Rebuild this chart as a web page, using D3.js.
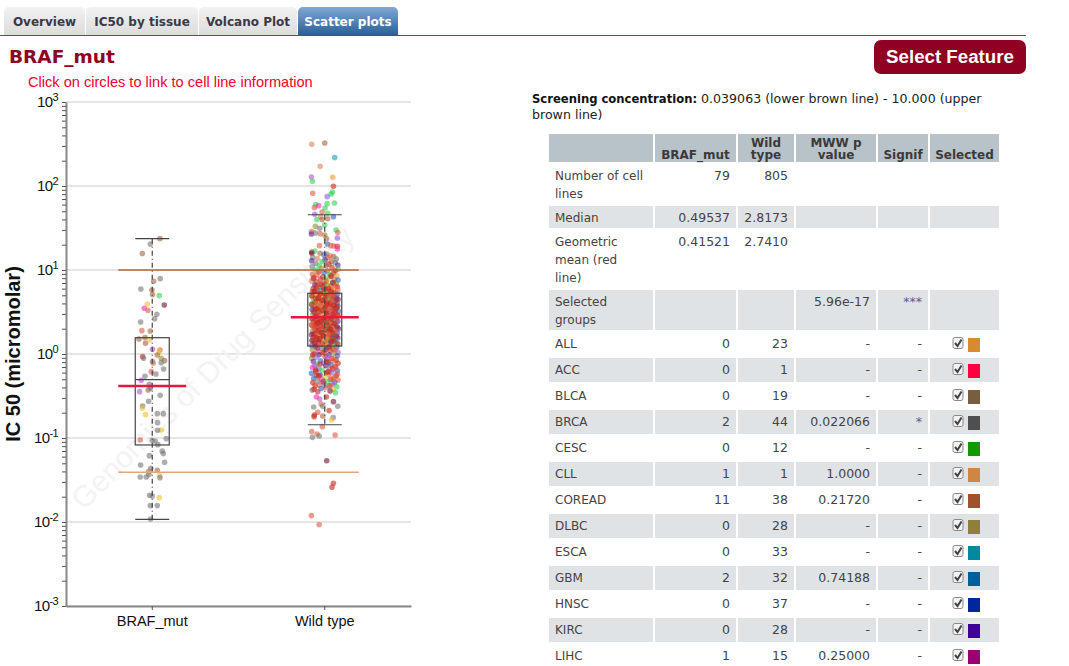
<!DOCTYPE html>
<html>
<head>
<meta charset="utf-8">
<script src="https://cdn.jsdelivr.net/npm/d3@7"></script>
<style>
  body { margin: 0; background: #fff; }
  svg { display: block; }
  text { font-family: "DejaVu Sans", sans-serif; }
  .plot text { font-family: "Liberation Sans", Arial, sans-serif; }
</style>
</head>
<body>
<div id="sketchpad"></div>
<script>
let tabLabels = ["Overview", "IC50 by tissue", "Volcano Plot", "Scatter plots"]
let groups = ["BRAF_mut", "Wild type"]

// box stats, log10 IC50
let boxQ1 = [-1.083, 0.095]
let boxMedian = [-0.305, 0.45]
let boxQ3 = [0.194, 0.723]
let whiskerLow = [-1.968, -0.842]
let whiskerHigh = [1.373, 1.658]
let geoMean = [0.41521, 2.7410]
let screening = [0.039063, 10]

let dotPalette = ["#777777", "#a5613a", "#dd5a40", "#c4281c", "#30d050", "#eebf30", "#b055c8", "#8f5cf0",
  "#2f5fc0", "#1c9cc0", "#ff2cb0", "#701030", "#ff9428", "#8f8f2c", "#5a1ca0", "#d5865a"]

// BRAF_mut dots: log10 IC50, jitter (-1..1), colour
let mutLog = [
  1.373, 1.31, 1.195, 0.897, 0.865, 0.774, 0.762, 0.707, 0.695, 0.595,
  0.584, 0.544, 0.52, 0.473, 0.421, 0.381, 0.278, 0.274, 0.179, 0.195,
  0.171, 0.127, 0.056, 0.048, 0.028, -0.031, -0.051, -0.012, -0.051, -0.079,
  -0.091, -0.111, -0.103, -0.178, -0.21, -0.238, -0.266, -0.313, -0.361, -0.404,
  -0.428, -0.448, -0.492, -0.563, -0.619, -0.647, -0.71, -0.71, -0.722, -0.817,
  -0.905, -0.909, -1.008, -1.024, -1.028, -1.035, -1.079, -1.154, -1.186, -1.21,
  -1.289, -1.321, -1.361, -1.385, -1.4, -1.444, -1.472, -1.464, -1.464, -1.436,
  -1.682, -1.69, -1.71, -1.805, -1.805, -1.964]
let mutJitter = [
  0.55, -0.14, -0.71, 0.57, 0.1, -0.81, -0.02, 0.02, 0.5, -0.36,
  0.86, -0.57, -0.31, 0.33, 0.17, -0.83, -0.74, -0.14, -0.95, -0.52,
  -0.19, -0.48, 0.02, 0.55, 0.5, -0.69, -0.62, 0.36, 0.64, 0.88,
  0.02, 0.07, 0.64, 0.81, -0.07, 0.26, -0.52, -0.79, -0.21, -0.14,
  -0.29, -0.9, 0.57, -0.26, -0.69, -0.71, 0.36, 0.79, -0.48, 0.38,
  0.64, 0.38, 1, -0.86, 0, 0.21, 0.4, 0.71, 0.79, -0.21,
  0.88, -0.83, -0.1, 0.36, -0.26, 0.52, 0.55, -0.86, -0.43, -0.24,
  -0.19, 0, 0.5, -0.14, 0.36, -0.12]
let mutColor = [
  1, 0, 1, 0, 1, 0, 1, 1, 4, 5,
  11, 10, 2, 0, 0, 0, 2, 1, 1, 1,
  5, 1, 6, 2, 5, 3, 0, 1, 13, 1,
  0, 15, 0, 0, 2, 0, 0, 6, 0, 8,
  1, 6, 0, 0, 0, 5, 0, 0, 5, 0,
  5, 0, 0, 2, 0, 0, 0, 0, 0, 0,
  0, 0, 0, 1, 2, 5, 0, 0, 0, 0,
  0, 0, 5, 0, 0, 0]

// Wild type dots: outliers read one by one, the dense middle estimated
let wildLog = [
  2.496, 2.512, 2.338, 2.234, 2.107, 2.103, 2.056, 1.996, 1.913, 1.929,
  1.905, 1.873, 1.798, 1.79, 1.778, 1.766, 1.742, 1.738, 1.691, 1.675,
  1.663, 1.635, 1.635, 1.611, 1.6, 1.6, 1.536, 1.52, 1.496, 1.476,
  1.445, 1.457, 1.429, 1.441, 1.433, 1.417, 1.373, 1.381, 1.29, 1.31,
  1.29, 1.286, 1.282, 1.25, 1.215, 1.227, 1.199,
  1.20, 1.19, 1.18, 1.17, 1.16, 1.15, 1.15, 1.14, 1.13, 1.12,
  1.11, 1.10, 1.10, 1.09, 1.08, 1.07, 1.06, 1.05, 1.05, 1.04,
  1.03, 1.02, 1.01, 1.00, 0.99, 0.99, 0.98, 0.97, 0.96, 0.95,
  0.95, 0.94, 0.93, 0.92, 0.92, 0.91, 0.90, 0.89, 0.89, 0.88,
  0.87, 0.86, 0.86, 0.85, 0.84, 0.84, 0.83, 0.82, 0.82, 0.81,
  0.80, 0.80, 0.79, 0.79, 0.78, 0.77, 0.77, 0.76, 0.76, 0.75,
  0.74, 0.74, 0.73, 0.73, 0.72, 0.72, 0.71, 0.71, 0.70, 0.70,
  0.69, 0.69, 0.68, 0.68, 0.67, 0.67, 0.66, 0.66, 0.65, 0.65,
  0.64, 0.64, 0.63, 0.63, 0.62, 0.62, 0.61, 0.61, 0.60, 0.60,
  0.59, 0.59, 0.58, 0.58, 0.57, 0.57, 0.56, 0.56, 0.55, 0.55,
  0.54, 0.54, 0.53, 0.53, 0.52, 0.52, 0.51, 0.51, 0.50, 0.50,
  0.49, 0.49, 0.48, 0.48, 0.47, 0.47, 0.46, 0.46, 0.45, 0.45,
  0.44, 0.44, 0.43, 0.43, 0.42, 0.42, 0.41, 0.41, 0.40, 0.40,
  0.39, 0.39, 0.38, 0.38, 0.37, 0.37, 0.36, 0.36, 0.35, 0.35,
  0.34, 0.34, 0.33, 0.33, 0.32, 0.32, 0.31, 0.31, 0.30, 0.30,
  0.29, 0.29, 0.28, 0.28, 0.27, 0.27, 0.26, 0.26, 0.25, 0.25,
  0.24, 0.24, 0.23, 0.23, 0.22, 0.22, 0.21, 0.21, 0.20, 0.20,
  0.19, 0.19, 0.18, 0.18, 0.17, 0.17, 0.16, 0.16, 0.15, 0.15,
  0.14, 0.14, 0.13, 0.13, 0.12, 0.12, 0.11, 0.11, 0.10, 0.10,
  0.09, 0.08, 0.08, 0.07, 0.06, 0.05, 0.05, 0.04, 0.03, 0.02,
  0.02, 0.01, 0.00, -0.01, -0.01, -0.02, -0.03, -0.04, -0.05, -0.05,
  -0.06, -0.07, -0.08, -0.08, -0.09, -0.10, -0.11, -0.11, -0.12, -0.13,
  -0.14, -0.14, -0.15, -0.16, -0.17, -0.18, -0.18, -0.19, -0.20, -0.21,
  -0.22, -0.22, -0.23, -0.24, -0.25, -0.26, -0.26, -0.27, -0.28, -0.29,
  -0.30, -0.30, -0.31, -0.32, -0.33, -0.34, -0.34, -0.35, -0.36, -0.37,
  -0.38, -0.38, -0.39, -0.40, -0.41, -0.42, -0.43, -0.44, -0.45, -0.46,
  -0.512, -0.512, -0.535, -0.567, -0.595, -0.623, -0.623, -0.631, -0.674, -0.694,
  -0.726, -0.738, -0.746, -0.758, -0.785, -0.865, -0.924, -0.952, -0.964, -0.976,
  -0.992, -1.27, -1.539, -1.587, -1.924, -2.032]
let wildJitter = [
  -0.93, 0, 0.71, -0.33, -0.95, 0.57, -0.88, 0.62, -0.86, 0.55,
  0.45, 0.17, 0.69, 0.17, -0.64, -0.43, -0.74, 0.02, -0.19, 0.21,
  -0.71, -0.29, 0.62, 0.21, -0.19, -0.57, 0, -0.67, -0.36, 0.81,
  0.93, -0.95, -0.95, -0.67, -0.33, 0, 0.12, 0.9, -0.38, 0.19,
  0.43, 0.64, 0.9, 0.9, -0.93, -0.71, -0.93,
  -0.33, 0.14, -0.05, 0.38, 0.62, -0.86, 0.24, -0.52, 0.83, 0.02,
  -0.93, 0.48, -0.19, 0.74, -0.64, 0.29, 0.93, -0.4, 0.1, -0.9,
  0.52, -0.24, 0.95, -0.67, 0.19, 0.76, -0.45, -0.05, 0.62, -0.88,
  0.33, -0.55, 0.86, -0.14, 0.43, -0.76, 0.05, 0.69, -0.31, 0.95,
  -0.93, 0.24, -0.6, 0.57, -0.02, 0.81, -0.38, 0.14, -0.71, 0.45,
  -0.12, 0.9, -0.5, 0.31, -0.83, 0.64, 0.07, -0.29, 0.48, -0.69,
  -0.88, 0.35, -0.2, 0.71, 0.05, -0.55, 0.9, -0.33, 0.48, -0.72,
  0.18, -0.93, 0.62, -0.1, 0.84, -0.45, 0.27, -0.66, 0.95, 0.02,
  -0.26, 0.52, -0.81, 0.76, -0.4, 0.12, 0.38, -0.6, 0.88, -0.05,
  -0.95, 0.31, -0.17, 0.67, -0.5, 0.93, 0.07, -0.76, 0.45, -0.29,
  0.81, -0.62, 0.21, -0.9, 0.57, -0.1, -0.43, 0.98, 0.33, -0.74,
  0.02, 0.71, -0.33, 0.48, -0.86, 0.14, -0.55, 0.9, -0.19, 0.62,
  -0.71, 0.26, 0.83, -0.05, -0.95, 0.43, -0.38, 0.67, 0.1, -0.57,
  0.93, -0.24, 0.52, -0.81, 0.19, -0.48, 0.76, -0.12, 0.36, -0.67,
  -0.9, 0.05, 0.6, -0.31, 0.86, -0.52, 0.24, -0.76, 0.98, -0.14,
  0.4, -0.62, 0.72, -0.02, -0.88, 0.29, 0.55, -0.4, 0.9, -0.21,
  0.12, -0.71, 0.64, -0.95, 0.33, -0.5, 0.81, -0.07, 0.48, -0.83,
  -0.29, 0.93, 0.17, -0.6, 0.69, -0.36, 0.02, -0.9, 0.57, 0.26,
  -0.45, 0.76, -0.74, 0.38, -0.14, 0.88, -0.55, 0.1, -0.93, 0.5,
  -0.67, 0.21, 0.86, -0.26, 0.6, -0.88, 0.07, 0.4, -0.5, 0.95,
  -0.17, 0.71, -0.76, 0.31, -0.4, 0.9, 0.02, -0.62, 0.52, -0.93,
  0.17, 0.81, -0.31, 0.62, -0.81, 0.26, -0.1, 0.95, -0.55, 0.43,
  -0.71, 0.07, 0.74, -0.88, 0.36, -0.43, 0.57, -0.19, 0.9, -0.64,
  0.12, 0.5, -0.95, 0.29, -0.33, 0.83, -0.6, 0.02, 0.67, -0.79,
  0.4, -0.24, 0.95, -0.5, 0.19, 0.71, -0.86, -0.07, 0.55, -0.4,
  0.31, -0.69, 0.86, 0.05, -0.26, 0.6, -0.9, 0.38, -0.5, 0.76,
  0.12, -0.6, -0.36, 0.62, -0.26, -0.14, 0.93, -0.79, 0.31, -0.5,
  -0.74, -0.14, -0.76, 0.6, 0.48, -0.17, -0.93, -0.55, 0.74, -0.4,
  -0.88, 0.14, 0.62, 0.52, -0.95, -0.4]
let wildColor = [
  15, 1, 9, 15, 6, 12, 4, 3, 2, 4,
  4, 7, 4, 4, 4, 10, 2, 4, 2, 4,
  7, 15, 8, 1, 1, 4, 4, 13, 0, 4,
  2, 2, 14, 0, 2, 13, 1, 7, 2, 8,
  2, 2, 3, 10, 3, 4, 11,
  1, 0, 8, 15, 1, 0, 2, 15, 0, 14,
  14, 1, 4, 0, 0, 3, 14, 4, 1, 0,
  3, 13, 4, 4, 2, 3, 2, 8, 3, 2,
  4, 2, 12, 3, 1, 2, 4, 13, 3, 8,
  15, 5, 3, 8, 3, 13, 2, 4, 14, 3,
  3, 3, 2, 12, 3, 5, 3, 8, 2, 3,
  3, 2, 12, 3, 4, 3, 8, 2, 3, 5,
  3, 13, 3, 2, 8, 3, 4, 3, 14, 3,
  2, 3, 4, 8, 3, 2, 3, 5, 3, 3,
  4, 3, 2, 3, 13, 8, 3, 2, 3, 12,
  3, 3, 2, 14, 3, 4, 3, 8, 2, 3,
  3, 2, 3, 10, 4, 3, 3, 2, 5, 3,
  8, 3, 2, 3, 13, 3, 2, 4, 3, 3,
  14, 3, 2, 3, 4, 3, 8, 3, 2, 3,
  3, 5, 3, 2, 8, 3, 4, 3, 14, 2,
  3, 3, 2, 4, 13, 3, 3, 2, 8, 3,
  2, 3, 4, 14, 3, 2, 8, 3, 11, 3,
  3, 14, 5, 3, 4, 2, 12, 8, 3, 4,
  11, 8, 3, 14, 3, 4, 2, 5, 8, 13,
  14, 3, 8, 0, 2, 13, 14, 3, 7, 6,
  2, 13, 3, 14, 11, 8, 3, 7, 2, 13,
  7, 3, 8, 2, 14, 3, 7, 3, 4, 8,
  6, 14, 3, 10, 2, 7, 3, 4, 8, 3,
  3, 7, 8, 2, 14, 3, 3, 5, 2, 8,
  3, 10, 2, 0, 4, 8, 3, 7, 6, 2,
  0, 3, 4, 2, 8, 5, 0, 11, 3, 4,
  3, 10, 6, 11, 2, 0, 0, 0, 3, 2,
  3, 1, 3, 0, 5, 2, 2, 2, 2, 0,
  0, 11, 3, 3, 2, 2]

// the red lines that pile up over the box, drawn on top of the others
let wildRedLog = [
  0.98, 0.93, 0.90, 0.87, 0.85, 0.83, 0.81, 0.80, 0.78, 0.77,
  0.76, 0.75, 0.74, 0.72, 0.71, 0.70, 0.69, 0.68, 0.66, 0.65,
  0.64, 0.63, 0.62, 0.60, 0.59, 0.58, 0.57, 0.56, 0.55, 0.54,
  0.53, 0.52, 0.51, 0.50, 0.49, 0.48, 0.47, 0.46, 0.45, 0.44,
  0.43, 0.42, 0.41, 0.40, 0.39, 0.38, 0.37, 0.36, 0.35, 0.34,
  0.33, 0.32, 0.31, 0.30, 0.29, 0.28, 0.27, 0.26, 0.25, 0.24,
  0.23, 0.22, 0.21, 0.20, 0.19, 0.18, 0.17, 0.16, 0.15, 0.14,
  0.13, 0.12, 0.11, 0.09, 0.07, 0.05, 0.02, -0.01, -0.05, -0.09,
  -0.12, -0.16, -0.19, -0.21, -0.24, -0.26, -0.3, -0.33, -0.38, -0.42]
let wildRedJitter = [
  -0.4, 0.45, -0.81, 0.1, 0.6, -0.26, 0.79, -0.6, 0.26, -0.05,
  0.93, -0.74, 0.43, -0.31, 0.69, 0.07, -0.9, 0.33, -0.48, 0.84,
  -0.14, 0.52, -0.69, 0.19, -0.93, 0.62, -0.36, 0.88, 0.02, -0.55,
  0.38, -0.21, 0.74, -0.79, 0.14, -0.43, 0.57, 0.95, -0.62, 0.29,
  -0.07, -0.86, 0.48, 0.81, -0.33, 0.12, -0.52, 0.67, -0.95, 0.24,
  -0.17, 0.9, -0.71, 0.4, 0.05, -0.45, 0.76, -0.26, 0.55, -0.83,
  0.31, -0.1, 0.86, -0.6, 0.17, -0.38, 0.64, -0.9, 0.45, 0.0,
  -0.71, 0.93, -0.19, 0.33, -0.52, 0.71, -0.05, -0.86, 0.5, 0.14,
  -0.33, 0.79, -0.64, 0.24, 0.9, -0.43, 0.57, -0.12, 0.38, -0.76]
let wildRedColor = [
  2, 3, 3, 2, 3, 3, 2, 3, 3, 3,
  2, 3, 3, 3, 2, 3, 3, 2, 3, 3,
  3, 2, 3, 3, 3, 3, 2, 3, 3, 3,
  2, 3, 3, 3, 3, 2, 3, 3, 3, 2,
  3, 3, 3, 2, 3, 3, 3, 3, 2, 3,
  3, 3, 2, 3, 3, 3, 2, 3, 3, 3,
  2, 3, 3, 3, 2, 3, 3, 3, 3, 2,
  3, 3, 2, 3, 3, 2, 3, 3, 2, 3,
  3, 2, 3, 3, 2, 3, 2, 3, 2, 3]

let rowLabels = [["Number of cell", "lines"], ["Median"], ["Geometric", "mean (red", "line)"], ["Selected", "groups"]]
let rowMut = ["79", "0.49537", "0.41521", ""]
let rowWild = ["805", "2.8173", "2.7410", ""]
let rowP = ["", "", "", "5.96e-17"]
let rowSignif = ["", "", "", "***"]

let tissues = ["ALL", "ACC", "BLCA", "BRCA", "CESC", "CLL", "COREAD", "DLBC", "ESCA", "GBM", "HNSC", "KIRC", "LIHC"]
let tissueMut = [0, 0, 0, 2, 0, 1, 11, 0, 0, 2, 0, 0, 1]
let tissueWild = [23, 1, 19, 44, 12, 1, 38, 28, 33, 32, 37, 28, 15]
let tissueP = ["-", "-", "-", "0.022066", "-", "1.0000", "0.21720", "-", "-", "0.74188", "-", "-", "0.25000"]
let tissueSignif = ["-", "-", "-", "*", "-", "-", "-", "-", "-", "-", "-", "-", "-"]
let tissueColors = ["#d68b2f", "#ff0040", "#7a5c3e", "#4f4f4f", "#109a00", "#cf8640", "#a0522d", "#8f7f3a",
  "#0089a0", "#00609c", "#00269c", "#3d0099", "#990073"]

let svg = d3.select("#sketchpad")
  .append("svg")
  .attr("width", 1069)
  .attr("height", 666)

let defs = svg.append("defs")
function gradient(id, top, bottom) {
  let g = defs.append("linearGradient").attr("id", id).attr("x1", 0).attr("x2", 0).attr("y1", 0).attr("y2", 1)
  g.append("stop").attr("offset", 0).attr("stop-color", top)
  g.append("stop").attr("offset", 1).attr("stop-color", bottom)
}
gradient("tabOff", "#f2f2f2", "#dcdcdc")
gradient("tabOn", "#7fa8d4", "#2a6099")

// tabs
let tabEdges = [[4, 85], [86, 198], [199, 297], [298, 398]]
let tabs = svg.append("g")
tabLabels.forEach((label, i) => {
  let [a, b] = tabEdges[i]
  let active = i == 3
  tabs.append("path")
    .attr("d", `M${a},35V12a5,5 0 0 1 5,-5H${b - 5}a5,5 0 0 1 5,5V35Z`)
    .attr("fill", active ? "url(#tabOn)" : "url(#tabOff)")
  tabs.append("text")
    .attr("x", (a + b) / 2)
    .attr("y", 26)
    .attr("text-anchor", "middle")
    .attr("font-size", 12)
    .attr("font-weight", "bold")
    .attr("fill", active ? "#fff" : "#3a3a44")
    .text(label)
})
svg.append("line")
  .attr("x1", 0).attr("x2", 1026).attr("y1", 35.5).attr("y2", 35.5)
  .attr("stroke", "#2a5f95")

svg.append("text")
  .attr("x", 9).attr("y", 63)
  .attr("font-size", 18.5).attr("font-weight", "bold")
  .attr("fill", "#8f0022")
  .text(groups[0])

svg.append("rect")
  .attr("x", 874).attr("y", 40).attr("width", 152).attr("height", 34).attr("rx", 7)
  .attr("fill", "#8f0022")
svg.append("text")
  .attr("x", 950).attr("y", 63)
  .attr("text-anchor", "middle")
  .style("font-family", '"Liberation Sans", Arial, sans-serif')
  .attr("font-size", 18.7).attr("font-weight", "bold")
  .attr("fill", "#fff")
  .text("Select Feature")

// plot
let plot = svg.append("g").attr("class", "plot")

let x = d3.scaleBand().domain(groups).range([66, 411])
let y = d3.scaleLog().domain([0.001, 1000]).range([606, 102])
let jitter = d3.scaleLinear().domain([-1, 1]).range([-14, 14])
let center = g => x(g) + x.bandwidth() / 2
let decades = [1e-3, 1e-2, 1e-1, 1, 10, 100, 1000]

plot.append("text")
  .attr("x", 28).attr("y", 87)
  .attr("font-size", 14.6)
  .attr("fill", "#f5002d")
  .text("Click on circles to link to cell line information")

plot.append("g").selectAll("line")
  .data(decades)
  .join("line")
  .attr("x1", 66).attr("x2", 411)
  .attr("y1", d => y(d)).attr("y2", d => y(d))
  .attr("stroke", "#dcdcdc")
  .attr("stroke-width", 1.5)

plot.append("text")
  .attr("transform", "translate(220,375) rotate(-45)")
  .attr("text-anchor", "middle")
  .attr("font-size", 30)
  .attr("fill", "#f3f3f3")
  .text("Genomics of Drug Sensitivity")

function drawDots(group, logs, jit, cols) {
  plot.append("g").selectAll("circle")
    .data(logs)
    .join("circle")
    .attr("cx", (d, i) => center(group) + jitter(jit[i]))
    .attr("cy", d => y(10 ** d))
    .attr("r", 2.8)
    .attr("fill", (d, i) => dotPalette[cols[i]])
    .attr("fill-opacity", 0.6)
}
drawDots(groups[0], mutLog, mutJitter, mutColor)
drawDots(groups[1], wildLog, wildJitter, wildColor)
drawDots(groups[1], wildRedLog, wildRedJitter, wildRedColor)

// boxes and whiskers
groups.forEach((g, i) => {
  let c = center(g)
  let box = plot.append("g").attr("stroke", "#444").attr("fill", "none")
  box.append("line")
    .attr("x1", c).attr("x2", c)
    .attr("y1", y(10 ** whiskerHigh[i])).attr("y2", y(10 ** whiskerLow[i]))
    .attr("stroke-width", 1.2)
    .attr("stroke-dasharray", "5,3,1,3")
  box.append("rect")
    .attr("x", c - 17).attr("width", 34)
    .attr("y", y(10 ** boxQ3[i]))
    .attr("height", y(10 ** boxQ1[i]) - y(10 ** boxQ3[i]))
    .attr("stroke-width", 1.2)
  let inner = [whiskerHigh[i], whiskerLow[i]]
  if (i == 0) inner.push(boxMedian[i])
  box.selectAll(".cap")
    .data(inner)
    .join("line")
    .attr("class", "cap")
    .attr("x1", c - 17).attr("x2", c + 17)
    .attr("y1", d => y(10 ** d)).attr("y2", d => y(10 ** d))
    .attr("stroke-width", 1.2)
})

// screening concentration lines
plot.append("g").selectAll("line")
  .data(screening)
  .join("line")
  .attr("x1", center(groups[0]) - 34).attr("x2", center(groups[1]) + 34)
  .attr("y1", d => y(d)).attr("y2", d => y(d))
  .attr("stroke", (d, i) => i ? "#b5653a" : "#dba882")
  .attr("stroke-width", 1.5)

plot.append("g").selectAll("line")
  .data(geoMean)
  .join("line")
  .attr("x1", (d, i) => center(groups[i]) - 34)
  .attr("x2", (d, i) => center(groups[i]) + 34)
  .attr("y1", d => y(d)).attr("y2", d => y(d))
  .attr("stroke", "#e8173f")
  .attr("stroke-width", 2.4)

// axes
let yAxis = plot.append("g")
  .attr("transform", "translate(66,0)")
  .call(d3.axisLeft(y).tickFormat("").tickSize(4).tickSizeOuter(0))
yAxis.selectAll(".tick line").attr("stroke", "#555")
yAxis.select(".domain").attr("stroke", "#888").attr("stroke-width", 2)

let xAxis = plot.append("g")
  .attr("transform", "translate(0,606)")
  .call(d3.axisBottom(x).tickSize(4).tickSizeOuter(0))
xAxis.select(".domain").attr("stroke", "#888").attr("stroke-width", 2)
xAxis.selectAll(".tick line").attr("stroke", "#555")
xAxis.selectAll(".tick text")
  .attr("font-size", 14.5)
  .attr("font-family", '"Liberation Sans", Arial, sans-serif')
  .attr("fill", "#111")
  .attr("dy", "0.9em")

let yLabels = plot.append("g").selectAll("text")
  .data(decades)
  .join("text")
  .attr("x", 58)
  .attr("y", d => y(d) + 5)
  .attr("text-anchor", "end")
  .attr("font-size", 15)
  .attr("letter-spacing", -0.6)
  .attr("fill", "#111")
yLabels.append("tspan").text("10")
yLabels.append("tspan")
  .attr("dy", -6)
  .attr("font-size", 11)
  .text(d => Math.round(Math.log10(d)))

plot.append("text")
  .attr("transform", "translate(20,354) rotate(-90)")
  .attr("text-anchor", "middle")
  .attr("font-size", 20)
  .attr("font-weight", "bold")
  .attr("fill", "#111")
  .text("IC 50 (micromolar)")

// right side
let info = svg.append("g").attr("font-size", 12.6).attr("fill", "#222")
let first = info.append("text").attr("x", 532).attr("y", 103)
first.append("tspan").attr("font-weight", "bold").attr("font-size", 11.6).attr("fill", "#111").text("Screening concentration: ")
first.append("tspan").text("0.039063 (lower brown line) - 10.000 (upper")
info.append("text").attr("x", 532).attr("y", 119).text("brown line)")

let colEdges = [[549, 653], [655, 736], [738, 794], [796, 876], [878, 928], [930, 999]]
let table = svg.append("g").attr("font-size", 12).attr("fill", "#444")

colEdges.forEach(([a, b]) => {
  table.append("rect").attr("x", a).attr("y", 134).attr("width", b - a).attr("height", 28).attr("fill", "#b8c2c9")
})
let headers = [[], ["BRAF_mut"], ["Wild", "type"], ["MWW p", "value"], ["Signif"], ["Selected"]]
headers.forEach((lines, c) => {
  lines.forEach((line, k) => {
    table.append("text")
      .attr("x", (colEdges[c][0] + colEdges[c][1]) / 2)
      .attr("y", 159 - (lines.length - 1 - k) * 12)
      .attr("text-anchor", "middle")
      .attr("font-weight", "bold")
      .attr("fill", "#3a3a3a")
      .text(line)
  })
})

function drawRow(top, height, shaded, labels, cells) {
  if (shaded) {
    colEdges.forEach(([a, b]) => {
      table.append("rect").attr("x", a).attr("y", top).attr("width", b - a).attr("height", height).attr("fill", "#e0e3e6")
    })
  }
  labels.forEach((line, k) => {
    table.append("text").attr("x", 555).attr("y", top + 16 + k * 18).text(line)
  })
  cells.forEach((v, c) => {
    let star = c == 3 && String(v).includes("*")
    table.append("text")
      .attr("x", colEdges[c + 1][1] - 6)
      .attr("y", top + 16)
      .attr("text-anchor", "end")
      .attr("font-size", 12.5)
      .attr("fill", star ? "#50648c" : "#444")
      .text(v)
  })
}

let rowTops = [164, 206, 230, 290]
let rowHeights = [40, 22, 58, 40]
rowLabels.forEach((labels, i) => {
  drawRow(rowTops[i], rowHeights[i], i % 2 == 1, labels, [rowMut[i], rowWild[i], rowP[i], rowSignif[i]])
})

tissues.forEach((t, i) => {
  let top = 332 + i * 26
  drawRow(top, 24, i % 2 == 1, [t], [tissueMut[i], tissueWild[i], tissueP[i], tissueSignif[i]])
  table.append("rect")
    .attr("x", 953).attr("y", top + 5.5).attr("width", 10).attr("height", 11).attr("rx", 2)
    .attr("fill", "#f4f4f4").attr("stroke", "#8a8a8a")
  table.append("path")
    .attr("d", `M955,${top + 11}l2.5,3l4,-6.5`)
    .attr("fill", "none").attr("stroke", "#444").attr("stroke-width", 2)
  table.append("rect")
    .attr("x", 968).attr("y", top + 6).attr("width", 12).attr("height", 14)
    .attr("fill", tissueColors[i])
})
</script>
</body>
</html>
